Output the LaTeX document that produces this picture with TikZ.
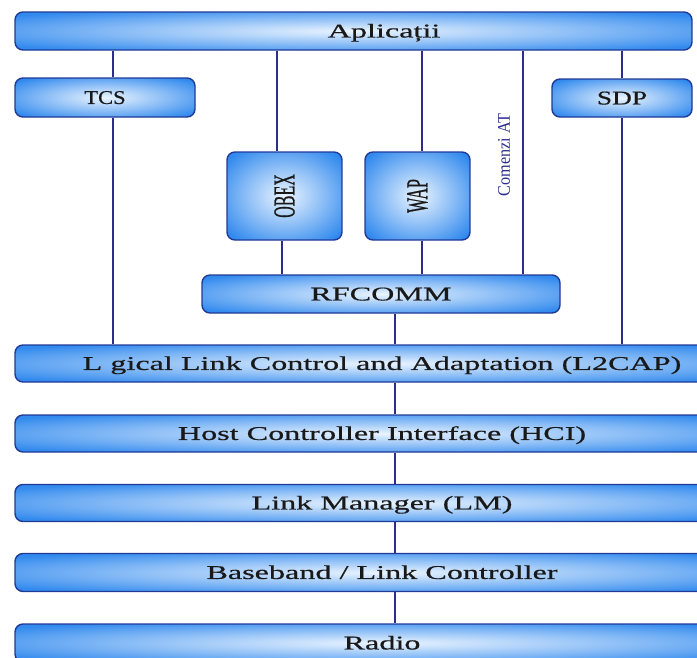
\documentclass[tikz,border=0pt]{standalone}
\usepackage{fontspec}
\setmainfont[FakeStretch=1.65, FakeBold=0.6]{Liberation Serif}
\newfontfamily\serifnarrow{Liberation Serif}
\newfontfamily\serifnarrowb[FakeBold=0.8]{Liberation Serif}

\definecolor{barblue}{RGB}{50,138,238}
\definecolor{barglowc}{RGB}{234,244,255}
\definecolor{bordernavy}{RGB}{32,58,150}
\definecolor{linknavy}{RGB}{45,45,140}
\pgfdeclareradialshading{barglow}{\pgfpoint{0bp}{0bp}}{color(0bp)=(barglowc); color(18bp)=(barglowc!45!barblue); color(32bp)=(barblue); color(50bp)=(barblue)}

\tikzset{
    bar/.style={draw=bordernavy, line width=1.4pt, rounded corners=8pt, shading=barglow,
        inner sep=0pt, text height=12.9pt, text depth=0pt,
        font=\fontsize{19.5pt}{23pt}\selectfont, text=black!90},
    vbox/.style={draw=bordernavy, line width=1.4pt, rounded corners=8pt, shading=barglow,
        inner sep=0pt, font=\serifnarrowb\fontsize{16pt}{19pt}\selectfont, text=black!90},
    lbl/.style={inner sep=0pt, text height=12.9pt, text depth=0pt,
        font=\fontsize{19.5pt}{23pt}\selectfont, text=black!90},
    link/.style={draw=linknavy, line width=1.4pt},
}

\begin{document}
\begin{tikzpicture}[x=1pt, y=-1pt]
    \useasboundingbox (0,0) rectangle (697,657);
    \clip (0,0) rectangle (697,657);

    % Columnas de las conexiones
    \coordinate (c1) at (113,0);
    \coordinate (c2) at (277,0);
    \coordinate (c2b) at (282,0);
    \coordinate (c3) at (422,0);
    \coordinate (c4) at (523,0);
    \coordinate (c5) at (622,0);
    \coordinate (c6) at (395,0);

    % Aplicaciones
    \node[bar, minimum width=677pt, minimum height=38pt] (apl) at (353.5,31) {};
    \node[lbl] (aplt) at (384,31) {Aplicații};

    % Protocolos superiores
    \node[bar, minimum width=180pt, minimum height=39pt] (tcs) at (105,97.5) {\scalebox{0.7}[1]{TCS}};
    \node[bar, minimum width=140pt, minimum height=38pt] (sdp) at (622,98) {\scalebox{0.85}[1]{SDP}};
    \node[vbox, minimum width=115pt, minimum height=88pt] (obex) at (284.5,196) {\rotatebox{90}{\scalebox{1}[1.9]{OBEX}}};
    \node[vbox, minimum width=105pt, minimum height=88pt] (wap) at (417.5,196) {\rotatebox{90}{\scalebox{1}[1.9]{WAP}}};
    \node[bar, minimum width=358pt, minimum height=38pt] (rfc) at (381,294) {RFCOMM};

    % Pila inferior
    \node[bar, minimum width=734pt, minimum height=37pt] (l2cap) at (382,363.5) {L gical Link Control and Adaptation (L2CAP)};
    \node[bar, minimum width=734pt, minimum height=37pt] (hci) at (382,433.5) {Host Controller Interface (HCI)};
    \node[bar, minimum width=734pt, minimum height=37pt] (lm) at (382,503) {Link Manager (LM)};
    \node[bar, minimum width=734pt, minimum height=38pt] (bb) at (382,572.5) {Baseband / Link Controller};
    \node[bar, minimum width=734pt, minimum height=38pt] (radio) at (382,643) {Radio};

    % Conexiones
    \draw[link] (apl.south -| c1) -- (tcs.north -| c1);
    \draw[link] (tcs.south -| c1) -- (l2cap.north -| c1);
    \draw[link] (apl.south -| c2) -- (obex.north -| c2);
    \draw[link] (obex.south -| c2b) -- (rfc.north -| c2b);
    \draw[link] (apl.south -| c3) -- (wap.north -| c3);
    \draw[link] (wap.south -| c3) -- (rfc.north -| c3);
    \draw[link] (apl.south -| c4) -- (rfc.north -| c4);
    \draw[link] (apl.south -| c5) -- (sdp.north -| c5);
    \draw[link] (sdp.south -| c5) -- (l2cap.north -| c5);
    \draw[link] (rfc.south -| c6) -- (l2cap.north -| c6);
    \foreach \a/\b in {l2cap/hci, hci/lm, lm/bb, bb/radio}
        \draw[link] (\a.south -| c6) -- (\b.north -| c6);

    % Comenzi AT
    \node[rotate=90, inner sep=0pt, text=linknavy, font=\serifnarrow\fontsize{16.2pt}{19pt}\selectfont] (cmdat) at (504,155) {\scalebox{1}[1.1]{Comenzi AT}};
\end{tikzpicture}
\end{document}
